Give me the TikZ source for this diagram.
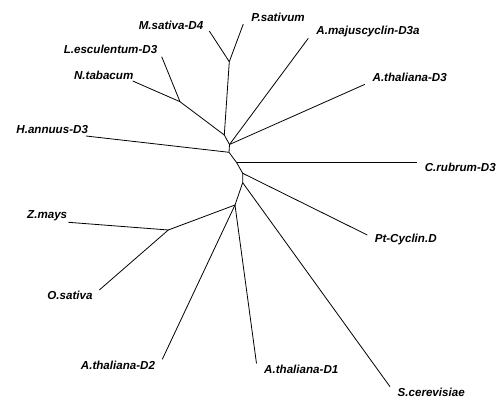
\documentclass[tikz,border=0pt]{standalone}
\usepackage{fontspec}
\setmainfont{Liberation Sans}
\usepackage{tikz}
\usetikzlibrary{calc, positioning}

\begin{document}
\begin{tikzpicture}[x=1pt, y=-1pt, line width=0.8pt,
    lbl/.style={inner sep=0pt, font=\fontsize{11.6}{12}\selectfont\bfseries\itshape}]
    \useasboundingbox (0,0) rectangle (499,398);

    % Internal nodes
    \coordinate (nA) at (229.3,61.7);
    \coordinate (nB) at (180,101.7);
    \coordinate (nC) at (224.3,135);
    \coordinate (nD) at (229.5,144.5);
    \coordinate (nE) at (229,152.3);
    \coordinate (nG) at (236.7,162.7);
    \coordinate (nH) at (242.7,173.3);
    \coordinate (nI) at (242.7,182.7);
    \coordinate (nJ) at (235,205);
    \coordinate (nK) at (168.3,230);

    % Leaf ends
    \coordinate (Msat) at (209.3,31);
    \coordinate (Psat) at (243.3,24);
    \coordinate (Amaj) at (308.3,38.3);
    \coordinate (AthDiii) at (365,84.3);
    \coordinate (Crub) at (417.3,162.7);
    \coordinate (Ptcyc) at (367.3,235);
    \coordinate (Scer) at (390,386.7);
    \coordinate (AthDi) at (256.5,363.5);
    \coordinate (AthDii) at (162.3,359.3);
    \coordinate (Osat) at (99.3,290);
    \coordinate (Zmays) at (68.3,222.3);
    \coordinate (Hann) at (86,136);
    \coordinate (Ntab) at (132.7,81);
    \coordinate (Lesc) at (161.7,56.7);

    % Labels
    \node[lbl] (tMsat) at (171,25) {M.sativa-D4};
    \node[lbl] (tPsat) at (278,17.3) {P.sativum};
    \node[lbl] (tAmaj) at (368,32) {A.majuscyclin-D3a};
    \node[lbl] (tAthDiii) at (409.7,77.7) {A.thaliana-D3};
    \node[lbl] (tCrub) at (460.3,167.7) {C.rubrum-D3};
    \node[lbl] (tPtcyc) at (405.7,240) {Pt-Cyclin.D};
    \node[lbl] (tScer) at (431.2,392.3) {S.cerevisiae};
    \node[lbl] (tAthDi) at (301.3,369.3) {A.thaliana-D1};
    \node[lbl] (tAthDii) at (118,365.7) {A.thaliana-D2};
    \node[lbl] (tOsat) at (70,295.7) {O.sativa};
    \node[lbl] (tZmays) at (47.2,215.7) {Z.mays};
    \node[lbl] (tHann) at (52.2,129.3) {H.annuus-D3};
    \node[lbl] (tNtab) at (103.7,75) {N.tabacum};
    \node[lbl] (tLesc) at (110.5,49.3) {L.esculentum-D3};

    % Backbone
    \draw (nB) -- (nC) -- (nA);
    \draw (nC) -- (nD) -- (nE) -- (nG) -- (nH) -- (nI) -- (nJ) -- (nK);

    % Branches to leaves
    \foreach \a/\b in {nA/Msat, nA/Psat, nB/Lesc, nB/Ntab, nD/Amaj, nD/AthDiii,
                       nE/Hann, nG/Crub, nH/Ptcyc, nI/Scer, nJ/AthDi, nJ/AthDii,
                       nK/Zmays, nK/Osat} {
        \draw (\a) -- (\b);
    }
\end{tikzpicture}
\end{document}
